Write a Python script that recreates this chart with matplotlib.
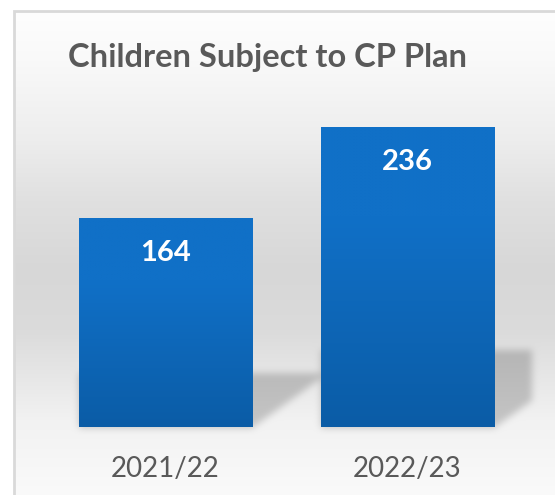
import numpy as np
import matplotlib
matplotlib.use("Agg")
import matplotlib.pyplot as plt
from matplotlib.colors import to_rgb

# data
years = ["2021/22", "2022/23"]
children = [164, 236]

title = "Children Subject to CP Plan"

W, H = 555, 495
DPI = 100

text_grey = "#595959"
bar_top_col = "#1070c7"
bar_bot_col = "#0b5ca6"

plt.rcParams["font.family"] = ["Lato", "DejaVu Sans"]

fig = plt.figure(figsize=(W / DPI, H / DPI), dpi=DPI)
fig.patch.set_facecolor("white")

# background axes in pixel space
bg = fig.add_axes([0, 0, 1, 1], zorder=0)
bg.set_xlim(0, W)
bg.set_ylim(H, 0)
bg.axis("off")

# main plot area
ax = fig.add_axes([44.5 / W, 68 / H, 484 / W, 381 / H], zorder=1)
ax.set_xlim(-0.5, 1.5)
ax.set_ylim(0, 300)
ax.patch.set_alpha(0)
for sp in ax.spines.values():
    sp.set_visible(False)
ax.set_yticks([])

x = np.arange(len(years))
bar_w = 0.715
bars = ax.bar(x, children, width=bar_w, color="none", edgecolor="none")


# ---- background: vertical grey gradient of the chart area ----
stops_y = np.array([10, 60, 140, 200, 270, 330, 370, 420, 495])
stops_v = np.array([0xfe, 0xf9, 0xed, 0xe0, 0xd7, 0xdb, 0xe5, 0xf2, 0xfa]) / 255.0
rows = np.arange(H)
col = np.interp(rows, stops_y, stops_v)
img = np.repeat(col[:, None], W, axis=1)


def box_blur(a, r, passes=3):
    for _ in range(passes):
        for axis in (0, 1):
            pad = [(0, 0), (0, 0)]
            pad[axis] = (r + 1, r)
            c = np.cumsum(np.pad(a, pad, mode="edge"), axis=axis)
            if axis == 0:
                a = (c[2 * r + 1:, :] - c[:-2 * r - 1, :]) / (2 * r + 1)
            else:
                a = (c[:, 2 * r + 1:] - c[:, :-2 * r - 1]) / (2 * r + 1)
    return a


# floor shadows to the right of each bar
shadow_reach = [75, 37]
yy, xx = np.mgrid[0:H, 0:W]
mask = np.zeros((H, W))
for b, reach in zip(bars, shadow_reach):
    (x0, y0), (x1, y1) = ax.transData.transform(
        [(b.get_x(), 0), (b.get_x() + b.get_width(), b.get_height())])
    left, right = x0, x1
    base = H - y0
    top = H - y1
    sh_top = base - 0.26 * (base - top)
    inside = ((xx >= left) & (xx <= right + reach) & (yy >= sh_top) & (yy <= base)
              & (yy <= base - 0.72 * (xx - right)))
    mask = np.maximum(mask, inside.astype(float))
mask = box_blur(mask, 3)
img = img * (1 - 0.19 * mask)

# white outside the chart border
img[:11, :] = 1.0
img[:, :14] = 1.0
rgb = np.dstack([img, img, img])
bg.imshow(rgb, extent=(0, W, H, 0), aspect="auto", interpolation="bilinear")
bg.plot([14, 14, W + 5], [H + 5, 11, 11], color="#d9d9d9", lw=2,
        solid_joinstyle="miter")

# ---- gradient fill for the bars ----
c_top = np.array(to_rgb(bar_top_col))
c_bot = np.array(to_rgb(bar_bot_col))
t = np.linspace(0, 1, 200)
w = np.clip((t - 0.3) / 0.7, 0, 1)[:, None]
grad = (c_top * (1 - w) + c_bot * w)[:, None, :]
for b in bars:
    ax.imshow(grad, extent=(b.get_x(), b.get_x() + b.get_width(), 0, b.get_height()),
              aspect="auto", origin="upper", zorder=2, interpolation="bilinear")
ax.set_xlim(-0.5, 1.5)
ax.set_ylim(0, 300)

# value labels inside the bars
for b, v in zip(bars, children):
    ax.annotate(str(v), (b.get_x() + b.get_width() / 2, v), xytext=(0, -25),
                textcoords="offset points", ha="center", va="center",
                color="white", fontsize=21, fontweight="bold", zorder=3)

ax.set_xticks(x)
ax.set_xticklabels(years, fontsize=20, color=text_grey)
ax.tick_params(axis="x", length=0, pad=21)

fig.text(268 / W, 1 - 67 / H, title, ha="center", va="baseline",
         fontsize=23.5, fontweight="bold", color=text_grey)

fig.savefig("out.png", dpi=DPI)
